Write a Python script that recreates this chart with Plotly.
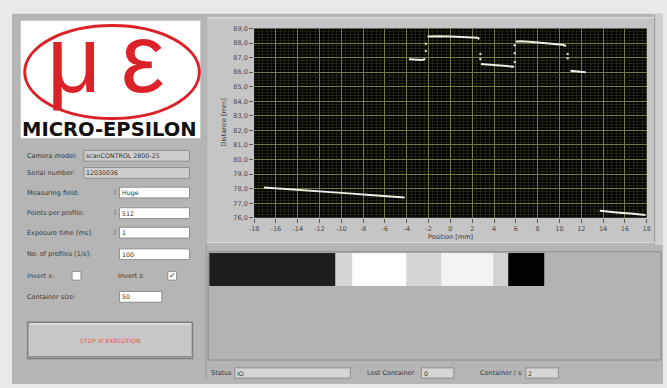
import plotly.graph_objects as go

W, H = 667, 388

# ---- Profile data: position [mm] vs distance [mm] ----
seg1_x = [-17.1, -16.0, -15.0, -14.0, -13.0, -12.0, -11.0, -10.0, -9.0, -8.0, -7.0, -6.0, -5.0, -4.2]
seg1_y = [78.08, 78.03, 77.97, 77.92, 77.86, 77.81, 77.76, 77.71, 77.66, 77.60, 77.55, 77.50, 77.45, 77.40]
seg2_x = [-3.8, -3.4, -3.0, -2.6, -2.3]
seg2_y = [86.88, 86.86, 86.85, 86.84, 86.90]
seg3_x = [-2.1, -1.5, -1.0, 0.0, 1.0, 2.0, 2.5, 2.65]
seg3_y = [88.45, 88.48, 88.47, 88.45, 88.43, 88.40, 88.36, 88.26]
seg4_x = [2.8, 3.5, 4.0, 4.5, 5.0, 5.5, 5.85]
seg4_y = [86.56, 86.52, 86.50, 86.47, 86.44, 86.42, 86.38]
seg5_x = [6.0, 6.5, 7.5, 8.5, 9.5, 10.3, 10.6]
seg5_y = [88.10, 88.12, 88.07, 88.02, 87.95, 87.88, 87.80]
seg6_x = [11.0, 11.5, 12.0, 12.4]
seg6_y = [86.10, 86.08, 86.04, 86.00]
seg7_x = [13.7, 14.5, 15.5, 16.5, 17.5, 17.9]
seg7_y = [76.48, 76.41, 76.35, 76.29, 76.23, 76.20]

# isolated points on the edges between levels
edge_x = [-2.25, -2.25, 2.75, 2.75, 5.9, 5.9, 5.9, 10.75, 10.75]
edge_y = [87.45, 87.95, 87.25, 86.90, 86.70, 87.30, 87.85, 87.25, 86.95]

x_tick_vals = [-18, -16, -14, -12, -10, -8, -6, -4, -2, 0, 2, 4, 6, 8, 10, 12, 14, 16, 18]
x_tick_text = ["-18", "-16", "-14", "-12", "-10", "-8", "-6", "-4", "-2", "0",
               "2", "4", "6", "8", "10", "12", "14", "16", "18"]
y_tick_vals = [76, 77, 78, 79, 80, 81, 82, 83, 84, 85, 86, 87, 88, 89]
y_tick_text = ["76,0", "77,0", "78,0", "79,0", "80,0", "81,0", "82,0", "83,0",
               "84,0", "85,0", "86,0", "87,0", "88,0", "89,0"]

# ---- Intensity strip: column edges and gray levels ----
strip_edges = [0, 127.7, 145.4, 199.4, 235.4, 287.7, 302.7, 339.4]
strip_levels = [30, 214, 253, 213, 243, 210, 2]

# ---- Settings panel ----
setting_labels = ["Camera model:", "Serial number:", "Measuring field:", "Points per profile:",
                  "Exposure time [ms]:", "No. of profiles [1/s]:", "Container size:"]
setting_values = ["scanCONTROL 2800-25", "12030036", "Huge", "512", "1", "100", "50"]

status_labels = ["Status", "Lost Container", "Container / s"]
status_values = ["IO", "0", "2"]


def X(p):
    return p / W


def Y(p):
    return 1 - p / H


shapes = []
annotations = []


def rect(x0, y0, x1, y1, fill, line=None, lw=0, layer="below"):
    shapes.append(dict(type="rect", xref="paper", yref="paper",
                       x0=X(x0), x1=X(x1), y0=Y(y1), y1=Y(y0),
                       fillcolor=fill, line=dict(color=line or fill, width=lw),
                       layer=layer))


def hline(x0, x1, y, color, w=1):
    shapes.append(dict(type="line", xref="paper", yref="paper",
                       x0=X(x0), x1=X(x1), y0=Y(y), y1=Y(y),
                       line=dict(color=color, width=w), layer="below"))


def vline(x, y0, y1, color, w=1):
    shapes.append(dict(type="line", xref="paper", yref="paper",
                       x0=X(x), x1=X(x), y0=Y(y0), y1=Y(y1),
                       line=dict(color=color, width=w), layer="below"))


def txt(x, y, s, size=7, color="#2e2e2e", xanchor="left", family="DejaVu Sans", **kw):
    # annotations carry a few pixels of padding; shift left-anchored text to its ink edge
    xx = x - 3 if xanchor == "left" else x
    annotations.append(dict(x=X(xx), y=Y(y), xref="paper", yref="paper", text=s,
                            showarrow=False, xanchor=xanchor, yanchor="middle",
                            font=dict(size=size, color=color, family=family), **kw))


# window background panels
rect(7, 10, 667, 388, "#b5b5b5")
rect(659, 10, 667, 246, "#cfcfcf")
rect(16, 17, 198, 137, "#ffffff")
rect(205, 14, 658, 243, "#c5c5c5")
hline(205, 658, 14, "#d8d8d8", 1.5)
hline(205, 658, 243.5, "#dcdcdc", 1)
vline(658.5, 14, 243, "#9a9a9a", 1)

# strip frame
rect(206, 253, 665, 363.5, "#b3b3b3", "#8c8c8c", 1)
vline(204, 245, 384, "#9a9a9a", 1)

# logo
shapes.append(dict(type="circle", xref="paper", yref="paper",
                   x0=X(20), x1=X(197), y0=Y(117), y1=Y(22),
                   line=dict(color="#dc2229", width=3), layer="below"))
txt(70, 57, "μ", size=94, color="#dc2229", xanchor="center", family="Liberation Sans")
txt(140, 55, "ε", size=98, color="#dc2229", xanchor="center", family="Liberation Sans")
txt(106, 128.5, "<b>MICRO-EPSILON</b>", size=19.5, color="#111111", xanchor="center",
    family="DejaVu Sans")

# settings controls
label_y = [155, 172.5, 192.5, 213.5, 233.5, 255.5, 299]
box_spans = [(80, 187), (80, 187), (116, 187), (116, 187), (116, 187), (116, 187), (116, 159)]
box_fill = ["#cdcdcd", "#cdcdcd", "#ffffff", "#ffffff", "#ffffff", "#ffffff", "#ffffff"]
for lab, val, yy, (bx0, bx1), fc in zip(setting_labels, setting_values, label_y, box_spans, box_fill):
    txt(23, yy, lab, size=6.5, color="#3a3a3a")
    rect(bx0, yy - 5.5, bx1, yy + 5.5, fc, "#8e8e8e", 1)
    txt(bx0 + 3.5, yy, val, size=6.3, color="#333333")
for yy in label_y[2:5]:
    txt(111, yy, "↕", size=7, color="#8a8a8a", xanchor="center")

# checkboxes
txt(23, 277.5, "Invert x:", size=6.5, color="#3a3a3a")
rect(68, 273, 77, 282, "#ffffff", "#8e8e8e", 1)
txt(116, 277.5, "Invert z:", size=6.5, color="#3a3a3a")
rect(165, 273, 174, 282, "#ffffff", "#8e8e8e", 1)
txt(169.5, 277.5, "✓", size=8, color="#222222", xanchor="center")

# stop button
rect(23, 325, 190, 362, "#c7c7c7", "#7e7e7e", 1.5)
hline(24.5, 188.5, 326.8, "#dedede", 1.5)
hline(24.5, 188.5, 360.2, "#8a8a8a", 1.5)
txt(106.5, 344, "STOP VI EXECUTION", size=6, color="#e6544c", xanchor="center")

# status row
status_label_x = [210, 368, 482]
status_boxes = [(233, 350), (422, 455), (528, 561)]
for lab, val, lx, (bx0, bx1) in zip(status_labels, status_values, status_label_x, status_boxes):
    txt(lx, 377, lab, size=6.5, color="#3a3a3a")
    rect(bx0, 371.5, bx1, 382, "#d5d5d5", "#8e8e8e", 1)
    txt(bx0 + 3.5, 377, val, size=6.3, color="#333333")

# plot axis titles
txt(222, 121, "Distance [mm]", size=6.5, color="#3a3a3a", xanchor="center", textangle=-90)
txt(452, 237.5, "Position [mm]", size=6.5, color="#3a3a3a", xanchor="center")

# black plot area, drawn beneath the grid
shapes.append(dict(type="rect", xref="x domain", yref="y domain", x0=0, x1=1, y0=0, y1=1,
                   fillcolor="#040404", line=dict(width=0), layer="below"))

fig = go.Figure()

profile_color = "#eeeee6"
for sx, sy in [(seg1_x, seg1_y), (seg2_x, seg2_y), (seg3_x, seg3_y), (seg4_x, seg4_y),
               (seg5_x, seg5_y), (seg6_x, seg6_y), (seg7_x, seg7_y)]:
    fig.add_trace(go.Scatter(x=sx, y=sy, mode="lines",
                             line=dict(color=profile_color, width=2),
                             hoverinfo="skip", showlegend=False))
fig.add_trace(go.Scatter(x=edge_x, y=edge_y, mode="markers",
                         marker=dict(color="#d8d8d0", size=2.4),
                         hoverinfo="skip", showlegend=False))

fig.add_trace(go.Heatmap(x=strip_edges, y=[0, 1], z=[strip_levels],
                         colorscale=[[0, "#000000"], [1, "#ffffff"]], zmin=0, zmax=255,
                         showscale=False, hoverinfo="skip", xaxis="x2", yaxis="y2"))

major_grid = "#737a45"
minor_grid = "rgba(95,105,52,0.26)"
tick_font = dict(family="DejaVu Sans", size=6.5, color="#4a4a4a")

fig.update_layout(
    width=W, height=H,
    margin=dict(l=0, r=0, t=0, b=0),
    paper_bgcolor="#e8eaea",
    plot_bgcolor="rgba(0,0,0,0)",
    shapes=shapes,
    annotations=annotations,
    xaxis=dict(domain=[X(252.5), X(650.5)], range=[-18, 18],
               tickvals=x_tick_vals, ticktext=x_tick_text,
               showgrid=True, gridcolor=major_grid, gridwidth=1,
               minor=dict(dtick=0.4, showgrid=True, gridcolor=minor_grid, gridwidth=1),
               ticks="outside", ticklen=4, tickcolor="#5a5a5a",
               tickfont=tick_font, zeroline=False, showline=False, fixedrange=True),
    yaxis=dict(domain=[Y(218.3), Y(25)], range=[76, 89],
               tickvals=y_tick_vals, ticktext=y_tick_text,
               showgrid=True, gridcolor=major_grid, gridwidth=1,
               minor=dict(dtick=0.2, showgrid=True, gridcolor=minor_grid, gridwidth=1),
               ticks="outside", ticklen=4, tickcolor="#5a5a5a",
               tickfont=tick_font, zeroline=False, showline=False, fixedrange=True),
    xaxis2=dict(domain=[X(207), X(663)], range=[0, 456], visible=False, anchor="y2",
                fixedrange=True),
    yaxis2=dict(domain=[Y(288), Y(254.3)], range=[0, 1], visible=False, anchor="x2",
                fixedrange=True),
)

fig.write_html("out.html")
